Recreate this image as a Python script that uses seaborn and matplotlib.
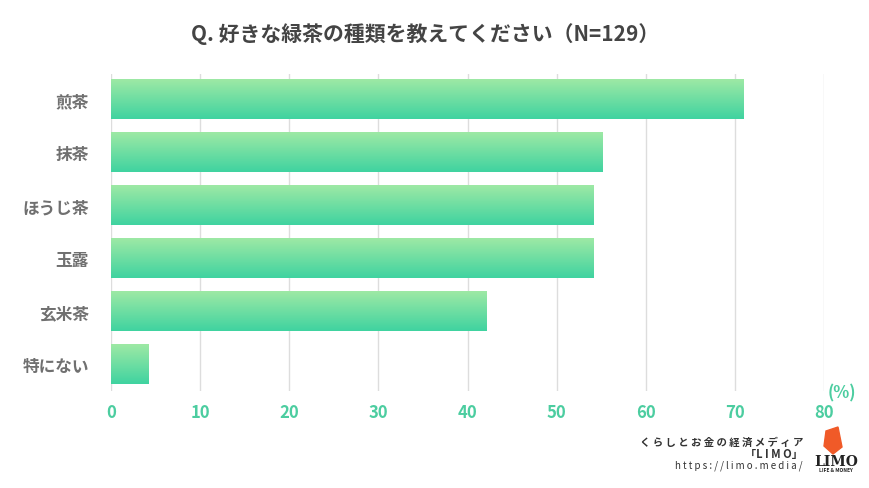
import matplotlib
matplotlib.use("Agg")
import matplotlib.pyplot as plt
import seaborn as sns
import numpy as np
import pandas as pd
from matplotlib.colors import LinearSegmentedColormap
from matplotlib.patches import Polygon

plt.rcParams["font.family"] = ["Noto Sans CJK JP", "DejaVu Sans"]

categories = ["煎茶", "抹茶", "ほうじ茶", "玉露", "玄米茶", "特にない"]
values = [71.0, 55.1, 54.1, 54.1, 42.1, 4.2]
xticks = [0, 10, 20, 30, 40, 50, 60, 70, 80]

df = pd.DataFrame({"category": categories, "value": values})

fig = plt.figure(figsize=(8.7, 4.89), dpi=100)
ax = fig.add_axes([111 / 870, 1 - 392 / 489, (824 - 111) / 870, (392 - 75) / 489])

sns.barplot(data=df, x="value", y="category", ax=ax, width=0.75, color="#5fdca6")

# gradient fill on each bar
cmap = LinearSegmentedColormap.from_list("g", ["#3fd3a0", "#9ee9a5"])
grad = np.linspace(0, 1, 256).reshape(-1, 1)
for p in ax.patches:
    x0, y0 = p.get_x(), p.get_y()
    w, h = p.get_width(), p.get_height()
    p.set_alpha(0)
    ax.imshow(grad, cmap=cmap, aspect="auto", extent=(x0, x0 + w, y0 + h, y0),
              origin="lower", zorder=2)

ax.set_xlim(0, 80)
ax.set_ylim(5.5, -0.47)
ax.set_xticks(xticks)
ax.xaxis.grid(True, color="#dddddd", linewidth=1)
ax.set_axisbelow(True)
for s in ax.spines.values():
    s.set_visible(False)
ax.tick_params(length=0)
ax.tick_params(axis="x", pad=9, labelsize=12, labelcolor="#4ccda0")
ax.tick_params(axis="y", pad=16, labelsize=12, labelcolor="#707070")
for lbl in ax.get_xticklabels() + ax.get_yticklabels():
    lbl.set_fontweight("bold")
ax.set_xlabel("")
ax.set_ylabel("")

fig.text(425 / 870, 1 - 34 / 489, "Q. 好きな緑茶の種類を教えてください（N=129）", ha="center",
         va="center", fontsize=15, fontweight="bold", color="#444444")
fig.text(842 / 870, 1 - 393 / 489, "(%)", ha="center", va="center", fontsize=12,
         fontweight="bold", color="#4ccda0")

fig.text(803 / 870, 1 - 443 / 489, "く ら し と お 金 の 経 済 メ デ ィ ア", ha="right",
         va="center", fontsize=7.5, color="#333333", fontweight="bold")
fig.text(803 / 870, 1 - 455 / 489, "「L I M O」", ha="right", va="center",
         fontsize=8, color="#333333", fontweight="bold")
fig.text(803 / 870, 1 - 466 / 489, "h t t p s : / / l i m o . m e d i a /", ha="right",
         va="center", fontsize=7, color="#333333")

# simple logo mark
fig.patches.append(Polygon([[826 / 870, 1 - 432 / 489], [838 / 870, 1 - 428 / 489],
                            [842 / 870, 1 - 448 / 489], [833 / 870, 1 - 455 / 489],
                            [824 / 870, 1 - 447 / 489]],
                           closed=True, transform=fig.transFigure, color="#f05a28"))
fig.text(836 / 870, 1 - 462 / 489, "LIMO", ha="center", va="center", fontsize=10,
         fontweight="bold", color="#222222", family="DejaVu Serif")
fig.text(836 / 870, 1 - 471 / 489, "LIFE & MONEY", ha="center", va="center", fontsize=3.5,
         fontweight="bold", color="#222222")

fig.savefig("out.png", dpi=100)
